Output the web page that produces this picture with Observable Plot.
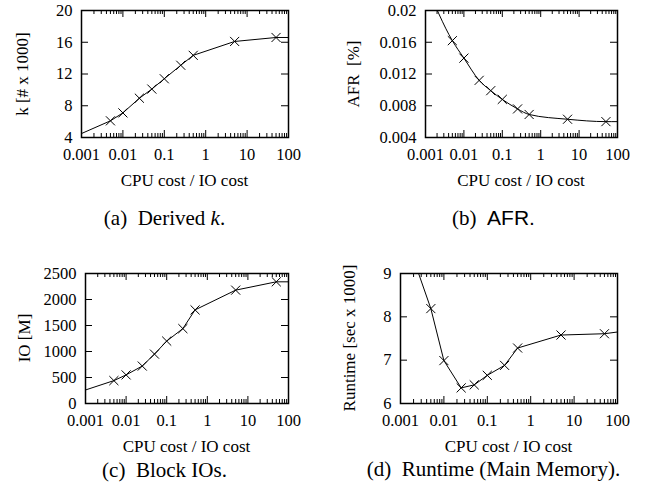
<!DOCTYPE html>
<html>
<head>
<meta charset="utf-8">
<script src="https://cdn.jsdelivr.net/npm/d3@7"></script>
<script src="https://cdn.jsdelivr.net/npm/@observablehq/plot@0.6"></script>
<style>
  html, body { margin: 0; padding: 0; background: #fff; }
  #root { position: relative; width: 658px; height: 495px; overflow: hidden; font-family: "Liberation Serif", "DejaVu Serif", serif; color: #000; }
  .panel { position: absolute; }
  .lbl { position: absolute; white-space: nowrap; transform: translate(-50%, -50%); font-size: 17px; }
  .ylbl { position: absolute; white-space: nowrap; transform: translate(-50%, -50%) rotate(-90deg); font-size: 17px; }
  .cap { position: absolute; white-space: nowrap; transform: translate(-50%, -50%); font-size: 21px; }
</style>
</head>
<body>
<div id="root"></div>
<script>
// ---- data ----
const xTicks = [0.001, 0.01, 0.1, 1, 10, 100];
const xTickLabels = ["0.001", "0.01", "0.1", "1", "10", "100"];
const costRatio = [0.005, 0.01, 0.025, 0.05, 0.1, 0.25, 0.5, 5, 50];
const lineRatio = [0.001, 0.005, 0.01, 0.025, 0.05, 0.1, 0.25, 0.5, 5, 50, 100];

const kValues = [6.1, 7.1, 8.95, 10.1, 11.4, 13.1, 14.35, 16.1, 16.6];
const kLine = [4.5, 6.1, 7.1, 8.95, 10.1, 11.4, 13.1, 14.35, 16.1, 16.6, 16.6];
const kTicks = [4, 8, 12, 16, 20];
const kTickLabels = ["4", "8", "12", "16", "20"];

const afrValues = [0.0162, 0.0140, 0.0112, 0.0099, 0.0088, 0.0076, 0.0069, 0.0063, 0.0060];
const afrLine = [0.0235, 0.0162, 0.0140, 0.0112, 0.0099, 0.0088, 0.0076, 0.0069, 0.0063, 0.0060, 0.0060];
const afrTicks = [0.004, 0.008, 0.012, 0.016, 0.02];
const afrTickLabels = ["0.004", "0.008", "0.012", "0.016", "0.02"];

const ioValues = [440, 550, 720, 950, 1200, 1440, 1800, 2180, 2340];
const ioLine = [260, 440, 550, 720, 950, 1200, 1440, 1800, 2180, 2340, 2340];
const ioTicks = [0, 500, 1000, 1500, 2000, 2500];
const ioTickLabels = ["0", "500", "1000", "1500", "2000", "2500"];

const rtValues = [8.19, 6.99, 6.36, 6.43, 6.65, 6.88, 7.28, 7.58, 7.61];
const rtLine = [10.2, 8.19, 6.99, 6.36, 6.43, 6.65, 6.88, 7.28, 7.58, 7.61, 7.65];
const rtTicks = [6, 7, 8, 9];
const rtTickLabels = ["6", "7", "8", "9"];

const xLabel = "CPU cost / IO cost";

// minor log ticks 2..9 per decade
const xMinor = [];
for (const dec of [0.001, 0.01, 0.1, 1, 10]) for (let m = 2; m <= 9; m++) xMinor.push(+(dec * m).toPrecision(3));

const root = document.getElementById("root");

function panel(cfg) {
  const W = 329, H = 250;
  const iw = W - cfg.ml - cfg.mr, ih = H - cfg.mt - cfg.mb;
  const major = 7, minor = 4;
  const chart = Plot.plot({
    width: W, height: H,
    marginLeft: cfg.ml, marginRight: cfg.mr, marginTop: cfg.mt, marginBottom: cfg.mb,
    style: { fontFamily: "Liberation Serif", fontSize: "16.5px", color: "#000", background: "transparent" },
    x: { type: "log", domain: [0.001, 100] },
    y: { domain: cfg.yDomain },
    marks: [
      Plot.tickX(xTicks, { x: d => d, stroke: "#000", strokeWidth: 1, insetTop: ih - major }),
      Plot.tickX(xTicks, { x: d => d, stroke: "#000", strokeWidth: 1, insetBottom: ih - major }),
      Plot.tickX(xMinor, { x: d => d, stroke: "#000", strokeWidth: 1, insetTop: ih - minor }),
      Plot.tickX(xMinor, { x: d => d, stroke: "#000", strokeWidth: 1, insetBottom: ih - minor }),
      Plot.tickY(cfg.yTicks, { y: d => d, stroke: "#000", strokeWidth: 1, insetRight: iw - major }),
      Plot.tickY(cfg.yTicks, { y: d => d, stroke: "#000", strokeWidth: 1, insetLeft: iw - major }),
      Plot.axisX({ anchor: "bottom", ticks: xTicks, tickSize: 0, tickPadding: 11, label: null,
        tickFormat: d => xTickLabels[xTicks.indexOf(d)] }),
      Plot.axisY({ anchor: "left", ticks: cfg.yTicks, tickSize: 0, tickPadding: 9, label: null,
        tickFormat: d => cfg.yTickLabels[cfg.yTicks.indexOf(d)] }),
      Plot.line(lineRatio.map((x, i) => ({ x, y: cfg.line[i] })), { x: "x", y: "y", stroke: "#000", strokeWidth: 1, curve: cfg.curve, clip: true }),
      Plot.dot(costRatio.map((x, i) => ({ x, y: cfg.values[i] })), { x: "x", y: "y", symbol: "times", r: 4.2, stroke: "#000", strokeWidth: 1 }),
      Plot.frame({ stroke: "#000", strokeWidth: 1.5 })
    ]
  });
  const wrap = document.createElement("div");
  wrap.className = "panel";
  wrap.style.left = cfg.left + "px";
  wrap.style.top = cfg.top + "px";
  wrap.appendChild(chart);
  root.appendChild(wrap);

  const xl = document.createElement("div");
  xl.className = "lbl";
  xl.textContent = xLabel;
  xl.style.left = (cfg.left + cfg.ml + iw / 2) + "px";
  xl.style.top = (cfg.top + H - cfg.mb + 44) + "px";
  root.appendChild(xl);

  const yl = document.createElement("div");
  yl.className = "ylbl";
  yl.textContent = cfg.yLabel;
  yl.style.left = cfg.yLabelX + "px";
  yl.style.top = (cfg.top + cfg.mt + ih / 2) + "px";
  root.appendChild(yl);

  const cap = document.createElement("div");
  cap.className = "cap";
  cap.innerHTML = cfg.caption;
  cap.style.left = (cfg.left + W / 2) + "px";
  cap.style.top = cfg.capY + "px";
  root.appendChild(cap);
}

panel({ left: 0, top: 0, ml: 81, mr: 41, mt: 10, mb: 113,
  yDomain: [4, 20], yTicks: kTicks, yTickLabels: kTickLabels,
  values: kValues, line: kLine, curve: "linear",
  yLabel: "k [# x 1000]", yLabelX: 23, caption: "(a)&nbsp; Derived <i>k</i>.", capY: 218 });

panel({ left: 329, top: 0, ml: 96, mr: 41, mt: 10, mb: 113,
  yDomain: [0.004, 0.02], yTicks: afrTicks, yTickLabels: afrTickLabels,
  values: afrValues, line: afrLine, curve: "monotone-x",
  yLabel: "AFR\u00a0\u00a0[%]", yLabelX: 354, caption: "(b)&nbsp; <span style=\"font-family:'Liberation Sans',sans-serif\">AFR.</span>", capY: 218 });

panel({ left: 0, top: 250, ml: 85, mr: 41, mt: 23, mb: 97,
  yDomain: [0, 2500], yTicks: ioTicks, yTickLabels: ioTickLabels,
  values: ioValues, line: ioLine, curve: "linear",
  yLabel: "IO [M]", yLabelX: 25, caption: "(c)&nbsp; Block IOs.", capY: 470 });

panel({ left: 329, top: 250, ml: 71, mr: 41, mt: 23, mb: 97,
  yDomain: [6, 9], yTicks: rtTicks, yTickLabels: rtTickLabels,
  values: rtValues, line: rtLine, curve: "linear",
  yLabel: "Runtime [sec x 1000]", yLabelX: 350, caption: "(d)&nbsp; Runtime (Main Memory).", capY: 469 });
</script>
</body>
</html>
